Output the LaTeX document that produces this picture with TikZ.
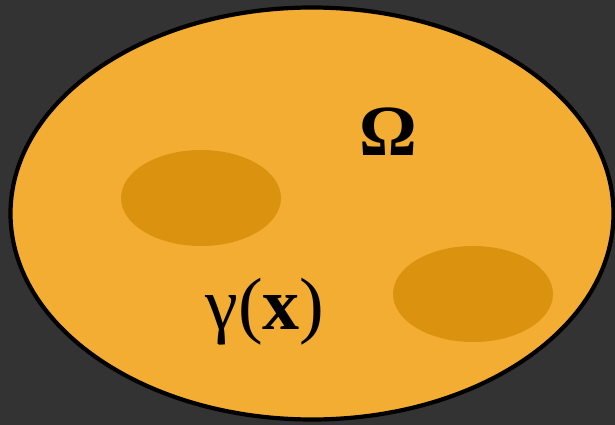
\documentclass[tikz,border=0pt]{standalone}
\usepackage{fontspec}
\setmainfont{Liberation Serif}
\usetikzlibrary{shapes.geometric}
\definecolor{bgdark}{HTML}{333333}
\definecolor{domfill}{HTML}{F2AD32}
\definecolor{holefill}{HTML}{DB920F}

\begin{document}
\begin{tikzpicture}[
    x=1pt,y=-1pt,
    regionbox/.style={ellipse,draw=black,line width=4.2pt,fill=domfill,minimum width=603pt,minimum height=412pt,inner sep=0pt},
    holebox/.style={ellipse,fill=holefill,minimum width=160pt,minimum height=96pt,inner sep=0pt},
    lbl/.style={inner sep=0pt,text=black}
]
\fill[bgdark] (0,0) rectangle (615,425);
\useasboundingbox (0,0) rectangle (615,425);
\node[regionbox] (Om) at (312,213.5) {};
\node[holebox] (H1) at (201,198) {};
\node[holebox] (H2) at (473,294) {};
\node[lbl,font=\fontsize{72}{72}\selectfont\bfseries] (OmLbl) at (388,132) {Ω};
\node[lbl,font=\fontsize{74}{74}\selectfont] (GamLbl) at (265,312) {γ(\textbf{x})};
\end{tikzpicture}
\end{document}
